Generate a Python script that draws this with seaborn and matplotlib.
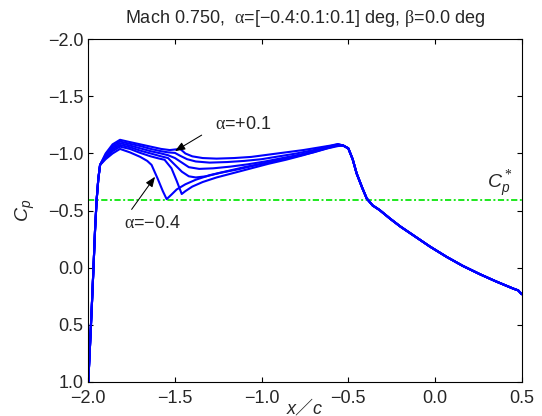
import matplotlib
matplotlib.use("Agg")
import matplotlib.pyplot as plt
import numpy as np
import pandas as pd
import seaborn as sns

# ---------------------------------------------------------------------------
# Surface pressure distributions, Mach 0.750, alpha sweep -0.4 .. +0.1 deg
# ---------------------------------------------------------------------------
alphas = [-0.4, -0.3, -0.2, -0.1, 0.0, 0.1]

# stagnation / leading-edge expansion (shared by all incidences)
nose_x = [-2.000, -1.990, -1.980, -1.970, -1.961, -1.952, -1.942, -1.932]
nose_cp = [1.00, 0.68, 0.35, 0.00, -0.33, -0.59, -0.78, -0.90]

# per-incidence suction peak, shock and mid-chord recovery
mid_x = {
    -0.4: [-1.90, -1.86, -1.817, -1.76, -1.70, -1.66, -1.635, -1.60, -1.57, -1.548,
           -1.52, -1.49, -1.44, -1.38, -1.30, -1.20, -1.10, -1.00, -0.90, -0.80,
           -0.70, -0.62, -0.56],
    -0.3: [-1.90, -1.86, -1.817, -1.76, -1.70, -1.64, -1.59, -1.56, -1.52, -1.49,
           -1.461, -1.44, -1.40, -1.34, -1.26, -1.16, -1.06, -0.96, -0.86, -0.76,
           -0.66, -0.60, -0.56],
    -0.2: [-1.90, -1.86, -1.817, -1.76, -1.70, -1.64, -1.58, -1.54, -1.50, -1.46,
           -1.42, -1.38, -1.32, -1.24, -1.14, -1.04, -0.94, -0.84, -0.74, -0.66,
           -0.60, -0.56],
    -0.1: [-1.90, -1.86, -1.817, -1.76, -1.70, -1.64, -1.58, -1.54, -1.50, -1.46,
           -1.42, -1.36, -1.28, -1.18, -1.08, -0.98, -0.88, -0.78, -0.68, -0.61,
           -0.56],
    0.0: [-1.90, -1.86, -1.817, -1.76, -1.70, -1.64, -1.58, -1.54, -1.50, -1.47,
          -1.43, -1.38, -1.30, -1.20, -1.10, -1.00, -0.90, -0.80, -0.70, -0.62,
          -0.56],
    0.1: [-1.90, -1.86, -1.817, -1.76, -1.70, -1.64, -1.58, -1.53, -1.50, -1.47,
          -1.44, -1.40, -1.34, -1.26, -1.16, -1.06, -0.96, -0.86, -0.76, -0.66,
          -0.60, -0.56],
}
mid_cp = {
    -0.4: [-0.95, -1.00, -1.04, -1.01, -0.97, -0.935, -0.90, -0.78, -0.67, -0.60,
           -0.64, -0.685, -0.73, -0.77, -0.81, -0.845, -0.88, -0.91, -0.94, -0.975,
           -1.01, -1.045, -1.065],
    -0.3: [-0.96, -1.02, -1.06, -1.04, -1.005, -0.975, -0.955, -0.945, -0.87, -0.76,
           -0.645, -0.67, -0.71, -0.75, -0.79, -0.83, -0.87, -0.91, -0.945, -0.985,
           -1.03, -1.055, -1.072],
    -0.2: [-0.97, -1.035, -1.075, -1.055, -1.025, -1.00, -0.975, -0.96, -0.90, -0.84,
           -0.80, -0.79, -0.80, -0.83, -0.86, -0.895, -0.93, -0.965, -1.00, -1.04,
           -1.06, -1.075],
    -0.1: [-0.98, -1.05, -1.09, -1.07, -1.045, -1.02, -1.00, -0.985, -0.96, -0.92,
           -0.88, -0.865, -0.87, -0.885, -0.905, -0.93, -0.96, -0.99, -1.025, -1.055,
           -1.078],
    0.0: [-0.99, -1.065, -1.105, -1.085, -1.065, -1.04, -1.02, -1.01, -1.005, -0.98,
          -0.95, -0.93, -0.92, -0.925, -0.935, -0.95, -0.975, -1.00, -1.03, -1.06,
          -1.08],
    0.1: [-1.00, -1.08, -1.12, -1.10, -1.08, -1.06, -1.04, -1.03, -1.035, -1.04,
          -1.00, -0.975, -0.96, -0.955, -0.96, -0.97, -0.99, -1.01, -1.03, -1.055,
          -1.07, -1.083],
}

# aft compression and trailing part (shared)
tail_x = [-0.53, -0.50, -0.475, -0.452, -0.42, -0.394, -0.36, -0.32, -0.26, -0.20,
          -0.126, -0.03, 0.067, 0.16, 0.259, 0.35, 0.451, 0.48, 0.50]
tail_cp = [-1.07, -1.045, -0.95, -0.825, -0.70, -0.606, -0.545, -0.505, -0.43, -0.36,
           -0.284, -0.185, -0.094, -0.015, 0.058, 0.12, 0.184, 0.20, 0.233]

cp_star = -0.59  # critical pressure coefficient at M = 0.75

xticks = [-2.0, -1.5, -1.0, -0.5, 0.0, 0.5]
xtick_labels = ["\u22122.0", "\u22121.5", "\u22121.0", "\u22120.5", "0.0", "0.5"]
yticks = [-2.0, -1.5, -1.0, -0.5, 0.0, 0.5, 1.0]
ytick_labels = ["\u22122.0", "\u22121.5", "\u22121.0", "\u22120.5", "0.0", "0.5", "1.0"]

title = ("Mach 0.750,  $\\mathrm{\\alpha}$=[\u22120.4:0.1:0.1] deg, "
         "$\\mathrm{\\beta}$=0.0 deg")

# ---------------------------------------------------------------------------
rows = []
for a in alphas:
    xs = nose_x + mid_x[a] + tail_x
    cs = nose_cp + mid_cp[a] + tail_cp
    for i, (xv, cv) in enumerate(zip(xs, cs)):
        rows.append({"alpha": f"{a:+.1f}", "order": i, "x": xv, "cp": cv})
df = pd.DataFrame(rows)

sns.set_style("ticks")
plt.rcParams["font.family"] = ["Liberation Sans", "DejaVu Sans"]
plt.rcParams["mathtext.fontset"] = "custom"
plt.rcParams["mathtext.rm"] = "Liberation Serif"
plt.rcParams["mathtext.it"] = "Liberation Sans:italic"
plt.rcParams["mathtext.bf"] = "Liberation Sans:bold"

fig = plt.figure(figsize=(5.42, 4.16), dpi=100)
ax = fig.add_axes([0.1629, 0.0825, 0.7996, 0.8228])

palette = {f"{a:+.1f}": "#0000ff" for a in alphas}
sns.lineplot(data=df, x="x", y="cp", hue="alpha", palette=palette, sort=False,
             estimator=None, linewidth=1.5, legend=False, ax=ax)

ax.axhline(cp_star, color="#1ee81e", lw=1.4, linestyle=(0, (3.2, 1.3, 1.0, 1.3)),
           zorder=1)

ax.set_xlim(-2.0, 0.5)
ax.set_ylim(1.0, -2.0)
ax.set_xticks(xticks)
ax.set_xticklabels(xtick_labels)
ax.set_yticks(yticks)
ax.set_yticklabels(ytick_labels)
ax.tick_params(direction="in", length=3.4, width=0.8, labelsize=13,
               top=True, right=True, color="black")
ax.tick_params(axis="x", pad=6)
ax.tick_params(axis="y", pad=3.6)
for sp in ax.spines.values():
    sp.set_visible(True)
    sp.set_linewidth(0.8)
    sp.set_color("black")

ax.set_title(title, fontsize=13, y=1.048, pad=0, va="baseline")

ax.set_ylabel("$C_p$", fontsize=14)
ax.yaxis.set_label_coords(-0.118, 0.5)
ax.set_xlabel("x\uff0fc", fontsize=13, style="italic",
              family=["Liberation Sans", "Noto Sans CJK JP"], va="baseline")
ax.xaxis.set_label_coords(0.5, -0.0914)

# critical Cp label
ax.text(0.449, -0.696, "$C_p^*$", fontsize=14, ha="right", va="baseline")

# incidence annotations
arrow = dict(arrowstyle="-|>,head_length=0.5,head_width=0.2", color="black",
             lw=0.75, shrinkA=0, shrinkB=0, mutation_scale=12)
ax.annotate("", xy=(-1.50, -1.021), xytext=(-1.346, -1.161), arrowprops=arrow)
ax.text(-1.108, -1.258, "$\\mathrm{\\alpha}$=+0.1", fontsize=13,
        ha="center", va="center")
ax.annotate("", xy=(-1.615, -0.796), xytext=(-1.75, -0.51), arrowprops=arrow)
ax.text(-1.627, -0.39, "$\\mathrm{\\alpha}$=\u22120.4", fontsize=13,
        ha="center", va="center")

fig.savefig("out.png", dpi=100)
